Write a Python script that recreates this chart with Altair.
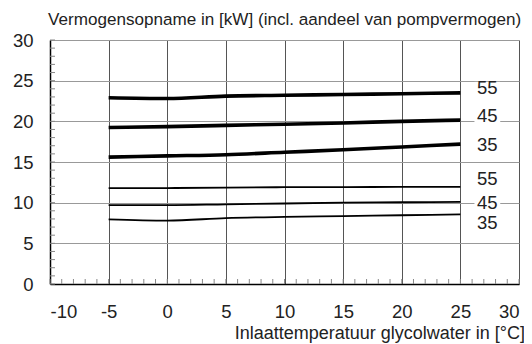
import altair as alt
import pandas as pd

temps = [-5, 0, 5, 10, 15, 20, 25]
thick_55 = [22.9, 22.8, 23.1, 23.2, 23.3, 23.4, 23.5]
thick_45 = [19.25, 19.35, 19.5, 19.65, 19.8, 20.0, 20.15]
thick_35 = [15.6, 15.75, 15.9, 16.2, 16.5, 16.85, 17.2]
thin_55 = [11.8, 11.8, 11.85, 11.9, 11.9, 11.95, 11.95]
thin_45 = [9.7, 9.7, 9.8, 9.9, 10.0, 10.05, 10.1]
thin_35 = [7.95, 7.8, 8.1, 8.25, 8.35, 8.45, 8.55]

label_texts = ["55", "45", "35", "55", "45", "35"]
label_y = [24.05, 20.7, 17.1, 12.9, 10.0, 7.44]
label_x = 27.3

x_ticks = [-10, -5, 0, 5, 10, 15, 20, 25, 30]
y_ticks = [0, 5, 10, 15, 20, 25, 30]
minor_x = list(range(-10, 31))
minor_y = list(range(0, 31))

title_text = "Vermogensopname in [kW] (incl. aandeel van pompvermogen)"
x_title_text = "Inlaattemperatuur glycolwater in [°C]"

rows = []
for name, grp, vals in [("55a", "thick", thick_55), ("45a", "thick", thick_45), ("35a", "thick", thick_35),
                        ("55b", "thin", thin_55), ("45b", "thin", thin_45), ("35b", "thin", thin_35)]:
    for t, v in zip(temps, vals):
        rows.append({"series": name, "group": grp, "t": t, "p": v})
df = pd.DataFrame(rows)
lab = pd.DataFrame({"text": label_texts, "y": label_y, "x": [label_x] * 6})
lab["x0"] = lab["x"] - 1.1
lab["x1"] = lab["x"] + 1.1
lab["y0"] = lab["y"] - 0.8
lab["y1"] = lab["y"] + 0.8

xscale = alt.Scale(domain=[-10, 30], nice=False, zero=False)
yscale = alt.Scale(domain=[0, 30], nice=False)

xaxis = alt.Axis(values=x_ticks, grid=True, gridColor="#555", gridWidth=1, ticks=False,
                 domainColor="#000", domainWidth=1.5, labelFontSize=18.5, labelColor="#222",
                 labelPadding=18, labelFont="Liberation Sans", labelExpr="'' + datum.value",
                 title=None)
yaxis = alt.Axis(values=y_ticks, grid=True, gridColor="#999", gridWidth=1, ticks=False,
                 domainColor="#000", domainWidth=1.5, labelFontSize=18.5, labelColor="#222",
                 labelPadding=17, labelFont="Liberation Sans", title=None)

base = alt.Chart(df)
lines = base.mark_line(color="#000", interpolate="monotone").encode(
    x=alt.X("t:Q", scale=xscale, axis=xaxis),
    y=alt.Y("p:Q", scale=yscale, axis=yaxis),
    detail="series:N",
    strokeWidth=alt.StrokeWidth("group:N", scale=alt.Scale(domain=["thick", "thin"], range=[3.6, 1.8]), legend=None),
)

mx = alt.Chart(pd.DataFrame({"v": minor_x})).mark_rule(color="#888", strokeWidth=1).encode(
    x=alt.X("v:Q", scale=xscale), y=alt.datum(0), y2=alt.value(239))
my = alt.Chart(pd.DataFrame({"v": minor_y})).mark_rule(color="#888", strokeWidth=1).encode(
    y=alt.Y("v:Q", scale=yscale), x=alt.datum(-10), x2=alt.value(5))

bg = alt.Chart(lab).mark_rect(color="white").encode(
    x=alt.X("x0:Q", scale=xscale), x2="x1:Q", y=alt.Y("y0:Q", scale=yscale), y2="y1:Q")
txt = alt.Chart(lab).mark_text(fontSize=18.5, font="Liberation Sans", color="#222",
                               align="center", baseline="middle").encode(
    x=alt.X("x:Q", scale=xscale), y=alt.Y("y:Q", scale=yscale), text="text:N")

top_title = alt.Chart(pd.DataFrame({"t": [title_text]})).mark_text(
    fontSize=17.1, font="Liberation Sans", color="#222", align="left", baseline="alphabetic"
).encode(x=alt.value(-2), y=alt.value(-15), text="t:N")
x_title = alt.Chart(pd.DataFrame({"t": [x_title_text]})).mark_text(
    fontSize=18, font="Liberation Sans", color="#222", align="right", baseline="alphabetic"
).encode(x=alt.value(475), y=alt.value(299), text="t:N")

chart = alt.layer(mx, my, bg, lines, txt, top_title, x_title).properties(
    width=469, height=244,
    autosize=alt.AutoSizeParams(type="none"),
    padding={"left": 42, "top": 32, "right": 5, "bottom": 60},
).configure_view(stroke="#333", strokeWidth=1.2).configure(background="white")

chart.save("out.html", embed_options={"renderer": "svg", "actions": False})
